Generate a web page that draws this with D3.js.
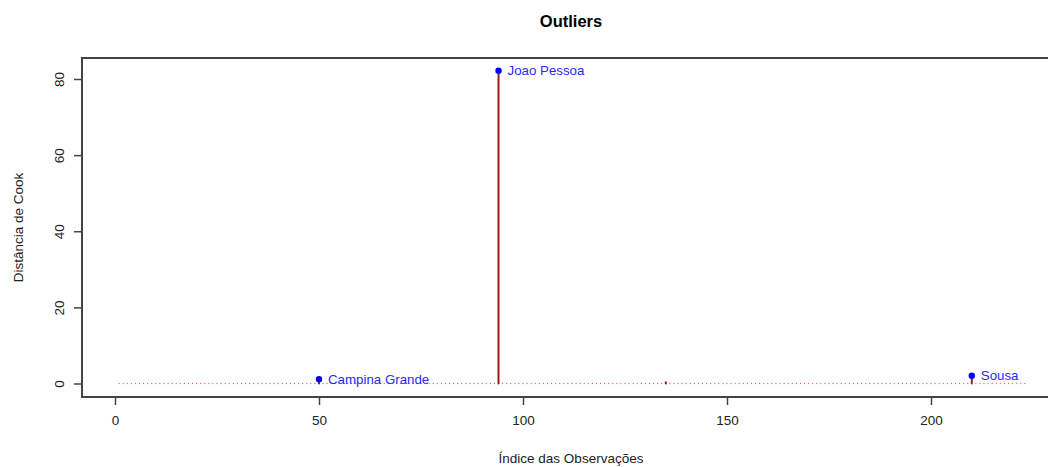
<!DOCTYPE html>
<html>
<head>
<meta charset="utf-8">
<script src="https://cdn.jsdelivr.net/npm/d3@7"></script>
<style>
  body { margin: 0; background: #fff; }
  text { font-family: "Liberation Sans", Arial, sans-serif; }
</style>
</head>
<body>
<script>

// distancia de Cook por observacao (indices 1..223)
var cookValues = [
  0.02,0.01,0.03,0.00,0.01,0.05,0.02,0.01,0.00,0.02,
  0.01,0.03,0.02,0.00,0.01,0.04,0.01,0.02,0.00,0.01,
  0.03,0.01,0.00,0.02,0.01,0.06,0.02,0.01,0.03,0.00,
  0.01,0.02,0.04,0.01,0.00,0.02,0.01,0.03,0.02,0.01,
  0.00,0.02,0.05,0.01,0.02,0.01,0.03,0.00,0.02,1.10,
  0.02,0.01,0.00,0.03,0.01,0.02,0.04,0.01,0.00,0.02,
  0.01,0.03,0.02,0.01,0.00,0.02,0.05,0.01,0.02,0.00,
  0.01,0.02,0.03,0.01,0.00,0.04,0.02,0.01,0.03,0.01,
  0.00,0.02,0.01,0.06,0.02,0.01,0.00,0.03,0.01,0.02,
  0.04,0.01,0.02,82.20,0.03,0.01,0.00,0.02,0.01,0.03,
  0.02,0.01,0.00,0.04,0.01,0.02,0.01,0.03,0.00,0.02,
  0.01,0.05,0.02,0.01,0.00,0.03,0.01,0.02,0.01,0.00,
  0.02,0.04,0.01,0.03,0.00,0.01,0.02,0.01,0.06,0.02,
  0.01,0.00,0.03,0.01,0.30,0.02,0.01,0.00,0.04,0.02,
  0.01,0.03,0.00,0.02,0.01,0.02,0.05,0.01,0.00,0.03,
  0.02,0.01,0.00,0.02,0.04,0.01,0.02,0.03,0.01,0.00,
  0.02,0.01,0.03,0.00,0.01,0.02,0.06,0.01,0.02,0.01,
  0.00,0.03,0.02,0.01,0.04,0.00,0.01,0.02,0.01,0.03,
  0.02,0.00,0.01,0.05,0.02,0.01,0.03,0.00,0.02,0.01,
  0.01,0.04,0.02,0.00,0.01,0.03,0.01,0.02,0.00,0.02,
  0.03,0.01,0.02,0.00,0.04,0.01,0.02,0.01,0.03,2.05,
  0.02,0.01,0.00,0.03,0.01,0.02,0.04,0.01,0.00,0.02,
  0.01,0.03,0.02
]

// observacoes destacadas
var outlierIdx = [50, 94, 210]
var outlierNames = ["Campina Grande", "Joao Pessoa", "Sousa"]

var xTicks = [0, 50, 100, 150, 200]
var yTicks = [0, 20, 40, 60, 80]

var width = 1048,
    height = 467

var box = {left: 82, top: 58, right: 1060, bottom: 397}

var x = d3.scaleLinear().domain([0, 200]).range([115, 931])
var y = d3.scaleLinear().domain([0, 80]).range([383.5, 79])

var data = cookValues.map(function(v, i){ return {i: i + 1, v: v} })

var svg = d3.select('body').append('svg')
            .attr('width', width)
            .attr('height', height)

// hastes (type = "h")
svg.append('g').selectAll('line')
   .data(data)
   .enter()
   .append('line')
   .attr('x1', function(d){ return x(d.i) })
   .attr('x2', function(d){ return x(d.i) })
   .attr('y1', y(0))
   .attr('y2', function(d){ return y(d.v) })
   .attr('stroke', function(d){ return d.v > 0.2 ? '#a11a1a' : '#d03845' })
   .attr('stroke-width', function(d){ return d.v > 0.2 ? 2 : 1.3 })
   .attr('stroke-linecap', 'round')
   .attr('opacity', function(d){ return d.v > 0.2 ? 1 : 0.75 })

// pontos e rotulos
var outliers = outlierIdx.map(function(k, j){
  return {i: k, v: cookValues[k - 1], name: outlierNames[j]}
})

svg.append('g').selectAll('circle')
   .data(outliers)
   .enter()
   .append('circle')
   .attr('cx', function(d){ return x(d.i) })
   .attr('cy', function(d){ return y(d.v) })
   .attr('r', 3.2)
   .attr('fill', '#0000ff')

svg.append('g').selectAll('text')
   .data(outliers)
   .enter()
   .append('text')
   .attr('x', function(d){ return x(d.i) + 9 })
   .attr('y', function(d){ return y(d.v) + 4.5 })
   .attr('fill', '#2a2aff')
   .style('font-size', '13.3px')
   .text(function(d){ return d.name })

// caixa
svg.append('rect')
   .attr('x', box.left)
   .attr('y', box.top)
   .attr('width', box.right - box.left)
   .attr('height', box.bottom - box.top)
   .attr('fill', 'none')
   .attr('stroke', '#444')
   .attr('stroke-width', 2)

// eixo x
var xAxis = svg.append('g')
   .attr('transform', 'translate(0,' + box.bottom + ')')
   .call(d3.axisBottom(x).tickValues(xTicks).tickSize(8).tickPadding(10).tickFormat(d3.format('d')))
xAxis.select('.domain').remove()
xAxis.selectAll('line').attr('stroke', '#444').attr('stroke-width', 1.5)
xAxis.selectAll('text').style('font-size', '13.5px').attr('fill', '#222')
   .style('font-family', '"Liberation Sans", Arial, sans-serif')

// eixo y
var yAxis = svg.append('g')
   .attr('transform', 'translate(' + box.left + ',0)')
   .call(d3.axisLeft(y).tickValues(yTicks).tickSize(8).tickFormat(d3.format('d')))
yAxis.select('.domain').remove()
yAxis.selectAll('line').attr('stroke', '#444').attr('stroke-width', 1.5)
yAxis.selectAll('text')
   .attr('x', null).attr('dy', null)
   .attr('text-anchor', 'middle')
   .attr('transform', 'translate(-18,0) rotate(-90)')
   .style('font-size', '13.5px').attr('fill', '#222')
   .style('font-family', '"Liberation Sans", Arial, sans-serif')

// titulos
var cx = (box.left + box.right) / 2
svg.append('text')
   .attr('x', cx)
   .attr('y', 27)
   .attr('text-anchor', 'middle')
   .style('font-size', '16.5px')
   .style('font-weight', 'bold')
   .text('Outliers')

svg.append('text')
   .attr('x', cx)
   .attr('y', 463)
   .attr('text-anchor', 'middle')
   .style('font-size', '13.5px')
   .attr('fill', '#222')
   .text('Índice das Observações')

svg.append('text')
   .attr('transform', 'translate(23,' + ((box.top + box.bottom) / 2) + ') rotate(-90)')
   .attr('text-anchor', 'middle')
   .style('font-size', '13.5px')
   .attr('fill', '#222')
   .text('Distância de Cook')

</script>
</body>
</html>
